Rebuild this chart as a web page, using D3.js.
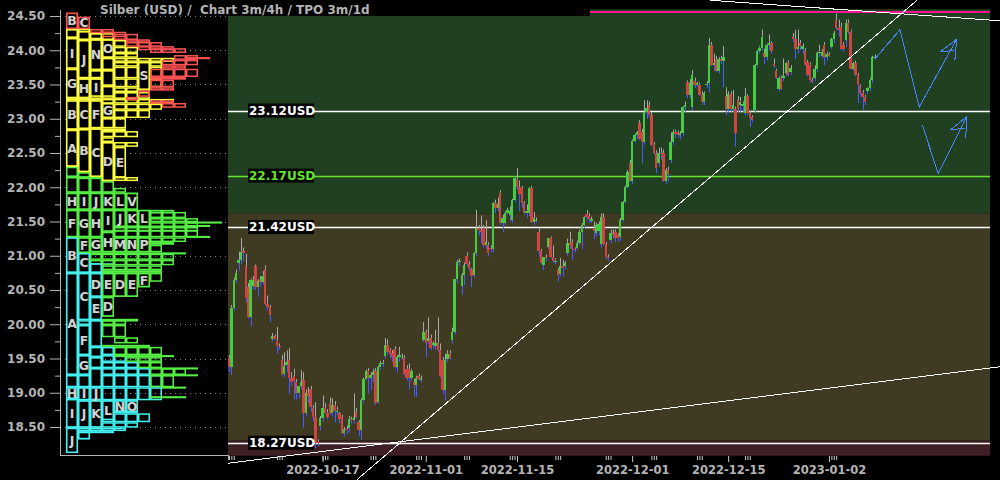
<!DOCTYPE html>
<html><head><meta charset="utf-8">
<script src="https://cdn.jsdelivr.net/npm/d3@7"></script>
<style>
html,body{margin:0;padding:0;background:#000;}
svg{display:block;font-family:"DejaVu Sans",sans-serif;font-weight:bold;}
</style></head><body>
<svg id="c" width="1000" height="480"></svg>
<script>
// ---------------- DATA ----------------
const ohlc = [
[19.51,19.55,19.30,19.38],[19.38,20.28,19.26,20.24],[20.24,20.68,20.20,20.65],[20.65,20.80,20.60,20.75],[20.90,21.06,20.78,20.94],
[20.94,21.26,20.88,21.06],[21.07,21.12,20.92,21.04],[20.85,21.03,20.32,20.38],[20.54,20.60,20.08,20.11],[20.11,20.67,19.97,20.65],
[20.56,20.70,20.50,20.65],[20.85,20.87,20.50,20.54],[20.54,20.66,20.40,20.63],[20.65,20.70,20.55,20.62],[20.62,20.78,20.58,20.71],
[20.81,20.86,20.28,20.30],[20.30,20.42,20.20,20.25],[20.25,20.28,20.03,20.13],[19.79,19.87,19.75,19.83],[19.83,19.85,19.77,19.78],
[19.76,19.96,19.57,19.68],[19.68,19.72,19.62,19.67],[19.48,19.55,19.25,19.27],[19.27,19.59,19.23,19.39],[19.40,19.62,19.30,19.45],
[19.48,19.65,18.98,19.22],[19.22,19.30,19.10,19.15],[19.24,19.35,18.90,19.17],[19.16,19.20,18.90,18.99],[18.99,19.05,18.92,19.10],
[19.10,19.33,19.05,19.15],[19.19,19.30,18.49,18.70],[18.70,19.05,18.65,18.99],[19.00,19.08,18.85,18.95],[19.05,19.10,18.72,18.79],
[18.78,18.82,18.58,18.65],[18.65,18.86,18.19,18.27],[18.28,18.32,18.22,18.27],[18.51,18.66,18.45,18.63],[18.63,18.96,18.58,18.78],
[18.78,18.85,18.70,18.71],[18.71,18.76,18.62,18.65],[18.84,18.93,18.68,18.71],[18.70,18.92,18.66,18.82],[18.82,18.88,18.57,18.74],
[18.74,18.80,18.68,18.74],[18.70,18.72,18.55,18.62],[18.64,18.68,18.39,18.41],[18.41,18.50,18.36,18.47],[18.47,18.52,18.40,18.45],
[18.48,18.66,18.42,18.62],[18.62,18.65,18.55,18.60],[18.60,18.99,18.55,18.64],[18.72,18.78,18.62,18.64],[18.57,18.60,18.37,18.46],
[18.46,18.92,18.31,18.89],[18.89,19.22,18.85,19.20],[19.20,19.34,19.18,19.32],[19.32,19.36,18.99,19.22],[19.22,19.30,19.04,19.26],
[19.26,19.35,19.15,19.30],[19.32,19.36,18.82,18.85],[18.87,19.40,18.84,19.37],[19.37,19.46,19.33,19.43],[19.43,19.48,19.38,19.44],
[19.54,19.80,19.50,19.70],[19.70,19.78,19.55,19.60],[19.62,19.65,19.50,19.57],[19.58,19.62,19.45,19.52],[19.64,19.68,19.35,19.38],
[19.38,19.55,19.30,19.52],[19.52,19.67,19.45,19.55],[19.52,19.57,19.48,19.52],[19.51,19.55,19.25,19.27],[19.35,19.40,19.18,19.22],
[19.34,19.43,19.05,19.22],[19.22,19.35,19.18,19.32],[19.15,19.20,18.94,19.11],[19.11,19.25,18.94,19.22],[19.24,19.28,19.18,19.20],
[19.20,19.25,19.15,19.21],[19.77,20.03,19.74,19.88],[19.88,19.92,19.52,19.73],[19.75,20.10,19.72,19.80],[19.80,19.85,19.62,19.66],
[19.70,19.75,19.65,19.72],[19.68,19.92,19.62,19.72],[19.72,20.10,19.60,19.62],[19.62,19.72,19.22,19.25],[19.48,19.52,18.98,19.04],
[19.04,19.57,18.89,19.48],[19.50,19.62,19.45,19.57],[19.57,19.62,19.48,19.51],[19.77,19.95,19.72,19.89],[19.89,20.66,19.85,20.66],
[20.66,20.94,20.60,20.91],[20.91,20.96,20.85,20.92],[20.56,20.75,20.43,20.72],[20.72,20.90,20.57,20.86],[21.00,21.05,20.85,20.88],
[20.88,20.92,20.78,20.82],[20.80,20.82,20.54,20.70],[20.72,21.05,20.68,21.04],[21.04,21.67,21.00,21.40],[21.40,21.45,21.30,21.37],
[21.37,21.59,21.18,21.35],[21.40,21.45,21.12,21.16],[21.16,21.52,21.10,21.20],[21.16,21.20,20.99,21.04],[21.12,21.15,21.05,21.10],
[21.10,21.78,21.05,21.77],[21.77,21.82,21.62,21.70],[21.70,21.85,21.65,21.75],[21.92,21.96,21.45,21.48],[21.48,21.60,21.35,21.55],
[21.48,21.65,21.45,21.63],[21.63,21.70,21.60,21.67],[21.60,21.72,21.50,21.65],[21.52,21.83,21.48,21.81],[21.81,22.14,21.78,22.13],
[22.12,22.28,21.96,22.00],[22.00,22.10,21.65,21.90],[21.99,22.02,21.70,21.77],[21.77,21.80,21.60,21.62],[21.62,21.75,21.55,21.66],
[21.62,22.00,21.58,21.99],[21.99,22.02,21.48,21.50],[21.50,21.64,21.45,21.55],[21.52,21.56,21.48,21.52],[21.35,21.40,20.98,21.07],
[21.07,21.10,20.88,20.89],[20.86,20.98,20.79,20.98],[20.98,21.02,20.92,20.97],[21.13,21.26,21.10,21.26],[21.26,21.28,20.96,20.98],
[20.98,21.15,20.90,20.93],[20.93,20.96,20.88,20.93],[20.79,20.82,20.62,20.72],[20.73,20.97,20.70,20.85],[20.85,20.94,20.70,20.82],
[20.85,20.92,20.80,20.89],[21.04,21.25,21.00,21.19],[21.19,21.35,21.10,21.15],[21.20,21.24,20.94,21.10],[21.10,21.12,21.05,21.09],
[21.12,21.22,21.08,21.19],[21.19,21.38,21.15,21.35],[21.35,21.48,21.10,21.45],[21.45,21.58,21.40,21.57],[21.61,21.67,21.52,21.57],
[21.58,21.62,21.48,21.53],[21.53,21.57,21.48,21.53],[21.40,21.50,21.24,21.36],[21.33,21.48,21.28,21.45],[21.36,21.50,21.30,21.46],
[21.17,21.62,21.12,21.56],[21.56,21.62,21.15,21.17],[21.17,21.20,20.95,20.98],[20.98,21.02,20.93,20.97],[21.23,21.38,21.18,21.33],
[21.33,21.38,21.25,21.30],[21.35,21.38,21.20,21.26],[21.30,21.33,21.20,21.26],[21.27,21.55,21.22,21.52],[21.52,21.80,21.50,21.78],
[21.78,22.02,21.76,22.00],[22.00,22.25,21.98,22.22],[22.35,22.40,22.07,22.09],[22.09,22.70,22.05,22.68],[22.68,22.78,22.65,22.76],
[22.76,22.82,22.70,22.80],[22.94,22.98,22.68,22.70],[22.80,22.85,22.35,22.66],[22.66,23.27,22.62,23.10],[23.10,23.27,23.00,23.15],
[23.20,23.25,23.02,23.05],[23.05,23.10,22.60,22.62],[22.62,22.66,22.48,22.50],[22.50,22.54,22.20,22.28],[22.35,22.58,22.30,22.50],
[22.50,22.58,22.40,22.48],[22.50,22.55,22.08,22.09],[22.09,22.28,22.05,22.25],[22.25,22.30,22.08,22.20],[22.40,22.80,22.35,22.66],
[22.66,22.84,22.62,22.81],[22.81,22.84,22.72,22.78],[22.80,22.83,22.72,22.77],[22.77,22.82,22.70,22.79],[22.79,23.18,22.75,23.17],
[23.17,23.25,23.10,23.20],[23.53,23.56,23.30,23.35],[23.35,23.58,23.30,23.52],[23.17,23.71,23.12,23.64],[23.55,23.60,23.45,23.50],
[23.50,23.54,23.46,23.52],[23.50,23.53,23.33,23.35],[23.35,23.40,23.20,23.24],[23.24,23.40,23.20,23.37],[23.50,23.55,23.45,23.51],
[23.52,24.18,23.38,24.08],[24.08,24.12,23.77,23.79],[23.79,23.95,23.70,23.82],[23.87,23.92,23.68,23.70],[23.70,23.90,23.66,23.87],
[23.87,23.92,23.80,23.84],[23.84,24.06,23.46,23.90],[23.33,23.46,23.05,23.14],[23.14,23.40,23.10,23.36],[23.36,23.40,23.10,23.14],
[23.14,23.42,23.10,23.20],[23.14,23.18,22.59,22.79],[23.27,23.33,23.10,23.14],[23.20,23.32,23.10,23.25],[23.18,23.25,23.10,23.22],
[23.08,23.45,23.05,23.33],[23.33,23.36,23.05,23.08],[23.08,23.12,22.88,23.01],[23.02,23.05,22.95,22.98],[23.13,23.80,23.10,23.78],
[23.78,24.00,23.75,23.99],[23.99,24.06,23.95,24.04],[24.04,24.30,24.00,24.20],[23.96,24.02,23.80,23.90],[23.90,24.10,23.85,24.08],
[24.08,24.23,24.00,24.10],[24.10,24.13,23.95,23.99],[23.80,23.88,23.74,23.77],[23.70,23.73,23.58,23.60],[23.44,23.62,23.40,23.60],
[23.60,23.63,23.42,23.44],[23.60,23.88,23.55,23.62],[23.67,23.82,23.62,23.81],[23.81,23.85,23.62,23.64],[23.68,23.78,23.64,23.74],
[24.19,24.25,24.12,24.16],[24.16,24.30,23.87,24.02],[24.02,24.30,23.95,24.05],[24.10,24.15,24.00,24.06],[24.02,24.10,23.95,24.06],
[23.99,24.03,23.78,23.79],[23.83,23.86,23.62,23.64],[23.79,23.82,23.53,23.56],[23.56,23.60,23.52,23.55],[23.60,23.78,23.55,23.72],
[23.72,23.98,23.68,23.96],[23.96,24.08,23.90,23.98],[23.92,24.02,23.88,23.98],[24.08,24.12,23.78,23.90],[23.90,23.98,23.85,23.95],
[23.94,23.97,23.90,23.93],[24.05,24.18,24.02,24.16],[24.16,24.28,24.10,24.25],[24.44,24.54,24.30,24.33],[24.33,24.45,24.20,24.30],
[24.34,24.40,24.00,24.02],[24.08,24.12,23.98,24.02],[24.15,24.45,24.05,24.40],[24.40,24.45,24.24,24.27],[24.27,24.30,23.72,23.73],
[23.73,23.83,23.70,23.81],[23.81,23.85,23.62,23.64],[23.64,23.67,23.23,23.49],[23.48,23.50,23.34,23.38],[23.38,23.42,23.13,23.32],
[23.32,23.35,23.20,23.24],[23.40,23.46,23.36,23.45],[23.45,23.60,23.40,23.57],[23.57,23.92,23.52,23.90],[23.90,23.94,23.86,23.90]
];
const dateTickIdx = [39, 82, 120, 168, 208, 250];
const dateTickLabels = ["2022-10-17","2022-11-01","2022-11-15","2022-12-01","2022-12-15","2023-01-02"];
const sessionTickIdx = [0,1,2, 20,21,22, 39,40,41, 59,60,61, 78,79,80, 98,99,100, 117,118,119, 136,137,138, 157,158,159, 176,177,178, 195,196,197, 215,216,217, 251,252,253];
const priceTicks = [18.5,19.0,19.5,20.0,20.5,21.0,21.5,22.0,22.5,23.0,23.5,24.0,24.5];
const priceMinorTicks = [18.75,19.25,19.75,20.25,20.75,21.25,21.75,22.25,22.75,23.25,23.75,24.25];
const levels = [23.12, 22.17, 21.42, 18.27];
const zones = [[24.60,21.62],[21.62,18.30],[18.30,18.08]];
const resistance = [[150.4,24.56],[317.1,24.56]];
const trendLines = [
  [[53.3,17.73],[286.7,24.73]],
  [[-0.4,17.97],[321.2,19.38]],
  [[200.4,24.73],[321.2,24.43]]
];
const projections = [
  [[269.3,23.88],[279.6,24.30],[287.6,23.17],[303.2,24.16]],
  [[288.9,22.91],[295.5,22.20],[307.4,23.03]]
];
const titleText = "Silber (USD) /  Chart 3m/4h / TPO 3m/1d";
// TPO profile rows: [group, high, low, firstCol, endCol]
const tpoRows = [
['c',21.04,20.89,0,2],['c',20.89,20.75,0,4],['c',20.75,20.40,0,3],['c',20.40,20.06,0,3],['c',20.06,19.99,0,2],
['c',19.99,19.67,0,2],['c',19.67,19.55,0,4],['c',19.55,19.45,0,5],['c',19.45,19.36,0,6],['c',19.36,19.26,0,7],
['c',19.26,19.08,0,8],['c',19.08,18.89,0,8],['c',18.89,18.70,0,6],['c',18.70,18.57,0,7],['c',18.57,18.49,0,6],
['c',18.49,18.44,0,5],['c',18.44,18.42,0,4],['c',18.42,18.32,0,2],
['g',22.30,22.15,0,2],['g',22.15,21.99,0,4],['g',21.99,21.92,0,5],['g',21.92,21.67,0,6],['g',21.67,21.62,0,9],
['g',21.64,21.55,0,10],['g',21.55,21.49,0,11],['g',21.50,21.48,10,13],['g',21.49,21.42,0,11],['g',21.45,21.43,10,12],
['g',21.42,21.35,0,11],['g',21.38,21.27,0,11],['g',21.29,21.27,10,12],['g',21.27,21.20,0,10],['g',21.20,21.16,0,9],
['g',21.16,21.05,0,8],['g',21.05,21.03,0,10],['g',21.03,20.94,0,9],['g',20.94,20.86,0,9],['g',20.86,20.79,0,8],
['g',20.79,20.75,0,8],['g',20.75,20.62,3,8],['g',20.62,20.54,3,7],['g',20.54,20.40,3,6],['g',20.40,20.11,3,4],
['g',20.08,20.04,2,6],['g',20.06,19.99,2,5],['g',19.99,19.81,2,5],['g',19.81,19.72,4,6],['g',19.70,19.67,2,7],
['g',19.67,19.55,4,8],['g',19.55,19.52,4,9],['g',19.52,19.45,5,8],['g',19.45,19.36,6,8],['g',19.37,19.35,8,11],
['g',19.36,19.26,7,10],['g',19.27,19.25,8,11],['g',19.26,19.08,7,9],['g',19.09,19.07,8,10],['g',18.95,18.92,7,10],
['y',24.31,24.25,0,2],['y',24.25,24.15,0,4],['y',24.15,24.05,0,5],['y',24.05,23.96,0,6],['y',23.96,23.89,0,6],
['y',23.89,23.83,0,9],['y',23.83,23.76,0,8],['y',23.76,23.59,0,8],['y',23.59,23.46,0,8],['y',23.46,23.39,0,7],
['y',23.39,23.29,0,7],['y',23.29,23.22,0,9],['y',23.22,23.13,0,8],['y',23.13,23.01,0,7],['y',23.01,22.86,0,5],
['y',22.86,22.82,0,5],['y',22.82,22.73,0,6],['y',22.73,22.66,0,4],['y',22.66,22.59,0,6],['y',22.59,22.40,0,5],
['y',22.40,22.30,0,5],['y',22.30,22.22,1,5],['y',22.22,22.15,2,4],['y',22.15,22.09,3,6],
['r',24.31,24.25,2,4],['r',24.27,24.19,3,5],['r',24.24,24.15,4,6],['r',24.16,24.11,5,7],['r',24.12,24.05,5,8],
['r',24.06,24.00,6,9],['r',24.03,23.96,7,10],['r',23.93,23.86,9,11],['r',23.90,23.88,10,12],['r',23.86,23.78,8,11],
['r',23.78,23.73,8,10],['r',23.73,23.61,7,11],['r',23.61,23.57,7,10],['r',23.57,23.46,6,9],['r',23.46,23.41,6,9],
['r',23.41,23.32,6,7],['r',23.32,23.27,5,6],['r',23.27,23.22,7,9],['r',23.23,23.16,8,10]
];
// TPO letter blocks: [group, col, high, low, letter]
const tpoBlocks = [
['c',0,21.27,20.75,'B'],['c',0,20.75,19.26,'A'],['c',0,19.26,19.08,''],['c',0,19.08,18.91,'H'],['c',0,18.91,18.49,'I'],['c',0,18.49,18.12,'J'],
['c',1,21.04,20.75,'C'],['c',1,20.75,20.06,'C'],['c',1,19.99,19.55,'F'],['c',1,19.55,19.26,'G'],['c',1,19.26,19.08,''],['c',1,19.08,18.89,'I'],['c',1,18.89,18.49,'J'],['c',1,18.43,18.32,''],
['c',2,20.89,20.75,''],['c',2,20.75,20.40,'D'],['c',2,20.40,20.06,'E'],['c',2,20.06,19.67,''],['c',2,19.67,19.52,''],['c',2,19.52,19.36,''],['c',2,19.36,19.08,''],['c',2,19.08,18.89,'J'],['c',2,18.89,18.49,'K'],
['c',3,18.89,18.60,'L'],['c',4,18.89,18.72,'N'],['c',5,18.89,18.72,'O'],
['g',0,22.30,22.15,''],['g',0,22.15,21.92,''],['g',0,21.92,21.67,'H'],['g',0,21.67,21.27,'F'],
['g',1,22.22,22.14,''],['g',1,22.14,21.92,''],['g',1,21.92,21.67,'I'],['g',1,21.67,21.27,'G'],['g',1,21.27,21.04,'F'],
['g',2,22.14,21.92,''],['g',2,21.92,21.67,'J'],['g',2,21.67,21.27,'H'],['g',2,21.27,21.05,'G'],
['g',3,22.09,21.92,''],['g',3,21.92,21.67,'K'],['g',3,21.67,21.35,'I'],['g',3,21.35,21.05,'H'],['g',3,20.75,20.40,'E'],['g',3,20.40,20.11,'D'],
['g',4,21.92,21.67,'L'],['g',4,21.67,21.42,'J'],['g',4,21.27,21.05,'M'],['g',4,20.75,20.40,'D'],
['g',5,21.92,21.67,'V'],['g',5,21.67,21.42,'K'],['g',5,21.27,21.05,'N'],['g',5,20.75,20.40,'E'],
['g',6,21.67,21.42,'L'],['g',6,21.27,21.05,'P'],['g',6,20.75,20.54,'F'],
['y',0,24.31,24.18,''],['y',0,24.18,23.73,'I'],['y',0,23.73,23.30,'G'],['y',0,23.27,22.84,'B'],['y',0,22.84,22.30,'A'],
['y',1,24.28,24.15,''],['y',1,24.15,23.59,'J'],['y',1,23.59,23.30,'H'],['y',1,23.27,22.85,'C'],['y',1,22.85,22.22,'B'],
['y',2,24.25,24.16,''],['y',2,24.16,23.71,'N'],['y',2,23.71,23.59,''],['y',2,23.59,23.32,'I'],['y',2,23.27,22.86,'F'],['y',2,22.86,22.15,'C'],
['y',3,24.16,23.89,'O'],['y',3,23.89,23.71,''],['y',3,23.71,23.48,''],['y',3,23.48,23.32,''],['y',3,23.23,23.01,'G'],['y',3,22.66,22.09,'D'],
['y',4,22.59,22.14,'E'],['y',6,23.83,23.42,'S'],
['r',0,24.55,24.31,'B'],['r',1,24.49,24.31,'C']
];

// ---------------- DRAWING ----------------
const svg = d3.select('#c');
const x = d3.scaleLinear().domain([-0.4, 317.1]).range([228, 990]);
const y = d3.scaleLinear().domain([18.5, 24.5]).range([427, 16]);
const col = d3.scaleLinear().domain([0, 12]).range([66, 210]);
const tpoColor = {r:'#ff5252', y:'#ffff40', g:'#55ee44', c:'#44f0f0'};
const zoneColor = ['#213f21', '#3e3b22', '#3e2024'];
const grey = '#b4b4b4';

// zones
svg.append('g').selectAll('rect').data(zones).join('rect')
  .attr('x', x(-0.4)).attr('width', x(317.1) - x(-0.4))
  .attr('y', d => y(d[0])).attr('height', d => y(d[1]) - y(d[0]))
  .attr('fill', (d, i) => zoneColor[i]);

// title backdrop
svg.append('rect').attr('x', 228).attr('y', 0).attr('width', x(150.4) - 228).attr('height', 16).attr('fill', '#000');

// left grid (dotted)
svg.append('g').selectAll('line').data(priceTicks).join('line')
  .attr('x1', 60).attr('x2', 228).attr('y1', d => Math.round(y(d)) + 0.5).attr('y2', d => Math.round(y(d)) + 0.5)
  .attr('stroke', '#808080').attr('stroke-width', 1).attr('stroke-dasharray', '1,4');

// left axis
const ax = svg.append('g').attr('transform', 'translate(60,0)')
  .call(d3.axisLeft(y).tickValues(priceTicks).tickFormat(d3.format('.2f')).tickSize(10).tickPadding(5));
ax.select('.domain').remove();
ax.selectAll('line').attr('stroke', grey);
ax.selectAll('text').attr('fill', grey).style('font-size', '12px').style('font-weight', 'bold').style('font-family', 'DejaVu Sans');
const axm = svg.append('g').attr('transform', 'translate(60,0)')
  .call(d3.axisLeft(y).tickValues(priceMinorTicks).tickFormat('').tickSize(5));
axm.select('.domain').remove();
axm.selectAll('line').attr('stroke', grey);
svg.append('line').attr('x1', 60.5).attr('x2', 60.5).attr('y1', 10).attr('y2', 455.5).attr('stroke', grey);
svg.append('line').attr('x1', 60).attr('x2', 228).attr('y1', 455.5).attr('y2', 455.5).attr('stroke', grey);
svg.append('line').attr('x1', 228.5).attr('x2', 228.5).attr('y1', 455).attr('y2', 460).attr('stroke', grey);

// TPO rows
const order = ['c', 'g', 'y', 'r'];
const cells = [];
order.forEach(gk => tpoRows.filter(r => r[0] === gk).forEach(r => {
  for (let c = r[3]; c < r[4]; c++) cells.push({g: r[0], hi: r[1], lo: r[2], c});
}));
svg.append('g').selectAll('rect').data(cells).join('rect')
  .attr('x', d => col(d.c) + 0.75).attr('width', col(1) - col(0) - 1.5)
  .attr('y', d => y(d.hi) + 0.75).attr('height', d => Math.max(0.6, y(d.lo) - y(d.hi) - 1.5))
  .attr('fill', 'none').attr('stroke', d => tpoColor[d.g]).attr('stroke-width', 1.5);

// TPO letter blocks
const blocks = [];
order.forEach(gk => tpoBlocks.filter(b => b[0] === gk).forEach(b => blocks.push(b)));
const bg = svg.append('g');
bg.selectAll('rect').data(blocks).join('rect')
  .attr('x', d => col(d[1]) + 0.75).attr('width', col(1) - col(0) - 1.5)
  .attr('y', d => y(d[2]) + 0.75).attr('height', d => Math.max(0.6, y(d[3]) - y(d[2]) - 1.5))
  .attr('fill', '#000').attr('stroke', d => tpoColor[d[0]]).attr('stroke-width', 1.6);
bg.selectAll('text').data(blocks.filter(d => d[4] && y(d[3]) - y(d[2]) >= 11)).join('text')
  .attr('x', d => col(d[1] + 0.5)).attr('y', d => (y(d[2]) + y(d[3])) / 2 + 4.5)
  .attr('text-anchor', 'middle').attr('fill', '#d2d2d2').style('font-size', '12.5px')
  .text(d => d[4]);

// level lines
const levelColor = v => (v === 22.17 ? '#66e62a' : '#ffffff');
svg.append('g').selectAll('line').data(levels).join('line')
  .attr('x1', x(-0.4)).attr('x2', x(317.1))
  .attr('y1', d => Math.round(y(d)) + 0.5).attr('y2', d => Math.round(y(d)) + 0.5)
  .attr('stroke', levelColor).attr('stroke-width', 1.5);

// candles
const cw = 2.4;
const cg = svg.append('g');
cg.selectAll('line.up').data(ohlc).join('line').attr('class', 'up')
  .attr('x1', (d, i) => Math.round(x(i)) + 0.5).attr('x2', (d, i) => Math.round(x(i)) + 0.5)
  .attr('y1', d => y(d[1])).attr('y2', d => y(Math.max(d[0], d[3])))
  .attr('stroke', '#a8a8a8').attr('stroke-width', 1);
cg.selectAll('line.dn').data(ohlc).join('line').attr('class', 'dn')
  .attr('x1', (d, i) => Math.round(x(i)) + 0.5).attr('x2', (d, i) => Math.round(x(i)) + 0.5)
  .attr('y1', d => y(Math.min(d[0], d[3]))).attr('y2', d => y(d[2]))
  .attr('stroke', '#4a5cff').attr('stroke-width', 1);
cg.selectAll('rect').data(ohlc).join('rect')
  .attr('x', (d, i) => x(i) - cw / 2).attr('width', cw)
  .attr('y', d => y(Math.max(d[0], d[3])))
  .attr('height', d => Math.max(1.2, Math.abs(y(d[0]) - y(d[3]))))
  .attr('fill', d => (d[3] >= d[0] ? '#44cc44' : '#d04444'))
  .attr('shape-rendering', 'crispEdges');

// level labels
const lg = svg.append('g');
lg.selectAll('rect').data(levels).join('rect')
  .attr('x', 248).attr('width', 66).attr('y', d => y(d) - 7).attr('height', 14).attr('fill', '#000');
lg.selectAll('text').data(levels).join('text')
  .attr('x', 249).attr('y', d => y(d) + 4.5).attr('fill', levelColor)
  .style('font-size', '12px').text(d => d.toFixed(2) + 'USD');

// resistance (pink)
const line = d3.line().x(d => x(d[0])).y(d => y(d[1]));
svg.append('path').attr('d', line(resistance)).attr('stroke', '#ff1493').attr('stroke-width', 2).attr('fill', 'none');

// trend lines
svg.append('g').selectAll('path').data(trendLines).join('path')
  .attr('d', line).attr('stroke', '#ffffff').attr('stroke-width', 1).attr('fill', 'none')
  .attr('shape-rendering', 'crispEdges');

// projections (blue arrows)
const pg = svg.append('g');
pg.selectAll('path.p').data(projections).join('path').attr('class', 'p')
  .attr('d', line).attr('stroke', '#4a86ff').attr('stroke-width', 1).attr('fill', 'none')
  .attr('shape-rendering', 'crispEdges');
projections.forEach(p => {
  const a = p[p.length - 2], b = p[p.length - 1];
  const bx = x(b[0]), by = y(b[1]), ax0 = x(a[0]), ay0 = y(a[1]);
  const ang = Math.atan2(ay0 - by, ax0 - bx);
  const L = 21, s = 0.42;
  const p1 = [bx + L * Math.cos(ang + s), by + L * Math.sin(ang + s)];
  const p2 = [bx + L * Math.cos(ang - s), by + L * Math.sin(ang - s)];
  pg.append('path').attr('d', `M${p1[0]},${p1[1]}L${bx},${by}L${p2[0]},${p2[1]}M${p1[0]},${p1[1]}L${(bx+p1[0]+p2[0])/3+4},${(by+p1[1]+p2[1])/3}`)
    .attr('stroke', '#4a86ff').attr('stroke-width', 1).attr('fill', 'none').attr('shape-rendering', 'crispEdges');
});

// bottom axis
const bx = svg.append('g').attr('transform', 'translate(0,456)')
  .call(d3.axisBottom(x).tickValues(dateTickIdx).tickFormat((d, i) => dateTickLabels[i]).tickSize(6).tickPadding(4));
bx.select('.domain').remove();
bx.selectAll('line').attr('stroke', '#cccccc');
bx.selectAll('text').attr('fill', grey).style('font-size', '11.5px').style('font-weight', 'bold').style('font-family', 'DejaVu Sans');
const bxm = svg.append('g').attr('transform', 'translate(0,456)')
  .call(d3.axisBottom(x).tickValues(sessionTickIdx).tickFormat('').tickSize(4));
bxm.select('.domain').remove();
bxm.selectAll('line').attr('stroke', '#cccccc');

// title
svg.append('text').attr('x', 100).attr('y', 14).attr('fill', grey).style('font-size', '12px')
  .style('white-space', 'pre').attr('xml:space', 'preserve').text(titleText);
</script>
</body></html>
